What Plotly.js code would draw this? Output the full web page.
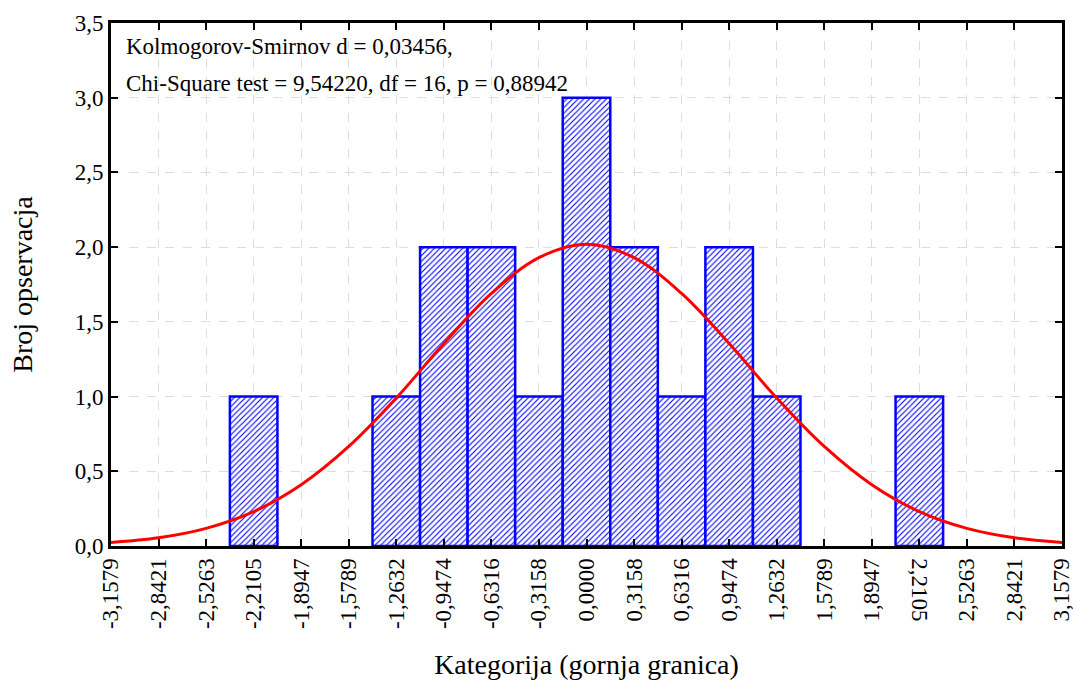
<!DOCTYPE html>
<html>
<head>
<meta charset="utf-8">
<script src="https://cdn.plot.ly/plotly-3.0.1.min.js"></script>
<style>html,body{margin:0;padding:0;background:#fff;}#chart{width:1073px;height:683px;}</style>
</head>
<body>
<div id="chart"></div>
<script>
// Histogram bins (upper-bound categories) and observed counts
var binCenters = [-2.2105, -1.2632, -0.9474, -0.6316, -0.3158, 0.0, 0.3158, 0.6316, 0.9474, 1.2632, 2.2105];
var counts     = [1, 1, 2, 2, 1, 3, 2, 1, 2, 1, 1];
var binWidth = 0.3158;

// Expected normal curve, values at each tick
var curveX = [-3.1579, -2.8421, -2.5263, -2.2105, -1.8947, -1.5789, -1.2632, -0.9474, -0.6316, -0.3158, 0.0,
              0.3158, 0.6316, 0.9474, 1.2632, 1.5789, 1.8947, 2.2105, 2.5263, 2.8421, 3.1579];
var curveY = [0.024, 0.055, 0.118, 0.23, 0.41, 0.666, 0.99, 1.355, 1.69, 1.93, 2.02,
              1.93, 1.69, 1.355, 0.99, 0.666, 0.41, 0.23, 0.118, 0.055, 0.024];

// Tick labels
var xTickVals = [-3.1579, -2.8421, -2.5263, -2.2105, -1.8947, -1.5789, -1.2632, -0.9474, -0.6316, -0.3158, 0.0,
                 0.3158, 0.6316, 0.9474, 1.2632, 1.5789, 1.8947, 2.2105, 2.5263, 2.8421, 3.1579];
var xTickText = ["-3,1579", "-2,8421", "-2,5263", "-2,2105", "-1,8947", "-1,5789", "-1,2632", "-0,9474", "-0,6316", "-0,3158", "0,0000",
                 "0,3158", "0,6316", "0,9474", "1,2632", "1,5789", "1,8947", "", "2,5263", "2,8421", "3,1579"];
var flippedLabel = "2,2105";
var flippedLabelX = 2.2105;
var yTickVals = [0, 0.5, 1.0, 1.5, 2.0, 2.5, 3.0, 3.5];
var yTickText = ["0,0", "0,5", "1,0", "1,5", "2,0", "2,5", "3,0", "3,5"];

var statLines = ["Kolmogorov-Smirnov d = 0,03456,", "Chi-Square test = 9,54220, df = 16, p = 0,88942"];

var FONT = "Liberation Serif";

var traces = [
  {
    type: "bar",
    x: binCenters,
    y: counts,
    width: binWidth,
    marker: {
      color: "white",
      line: {color: "#0000ff", width: 2.5},
      pattern: {shape: "/", fgcolor: "#0000ff", bgcolor: "white", size: 4, solidity: 0.28}
    },
    hoverinfo: "x+y"
  },
  {
    type: "scatter",
    mode: "lines",
    x: curveX,
    y: curveY,
    line: {color: "#ff0000", width: 3, shape: "spline", smoothing: 1.0}
  }
];

var gridStyle = {gridcolor: "#dddddd", griddash: "dash", gridwidth: 1};

var layout = {
  width: 1073, height: 683,
  margin: {l: 111, r: 11, t: 23, b: 137},
  paper_bgcolor: "white", plot_bgcolor: "white",
  showlegend: false,
  bargap: 0,
  font: {family: FONT, color: "#000", size: 23},
  xaxis: Object.assign({
    range: [-3.1579, 3.1579],
    tickmode: "array", tickvals: xTickVals, ticktext: xTickText,
    tickangle: -90,
    ticklabeloverflow: "allow",
    ticks: "inside", ticklen: 7, tickwidth: 2, tickcolor: "#000",
    showline: true, linecolor: "#000", linewidth: 3, mirror: "ticks",
    zeroline: false,
    tickfont: {family: FONT, size: 23},
    title: {text: "Kategorija (gornja granica)", font: {family: FONT, size: 28}, standoff: 27}
  }, gridStyle),
  yaxis: Object.assign({
    range: [0, 3.5],
    tickmode: "array", tickvals: yTickVals, ticktext: yTickText,
    ticks: "inside", ticklen: 7, tickwidth: 2, tickcolor: "#000",
    showline: true, linecolor: "#000", linewidth: 3, mirror: "ticks",
    zeroline: false,
    tickfont: {family: FONT, size: 23},
    title: {text: "Broj opservacja", font: {family: FONT, size: 28}, standoff: 34}
  }, gridStyle),
  annotations: [
    {xref: "paper", yref: "paper", x: 0.014, y: 0.955, xanchor: "left", yanchor: "middle",
     text: statLines[0], showarrow: false, font: {family: FONT, size: 23}},
    {xref: "paper", yref: "paper", x: 0.014, y: 0.884, xanchor: "left", yanchor: "middle",
     text: statLines[1], showarrow: false, font: {family: FONT, size: 23}},
    {xref: "x", yref: "paper", x: flippedLabelX, y: 0, xanchor: "center", yanchor: "top", yshift: -10,
     text: flippedLabel, textangle: 90, showarrow: false, font: {family: FONT, size: 23}}
  ]
};

Plotly.newPlot("chart", traces, layout, {displayModeBar: false, staticPlot: true});
</script>
</body>
</html>
